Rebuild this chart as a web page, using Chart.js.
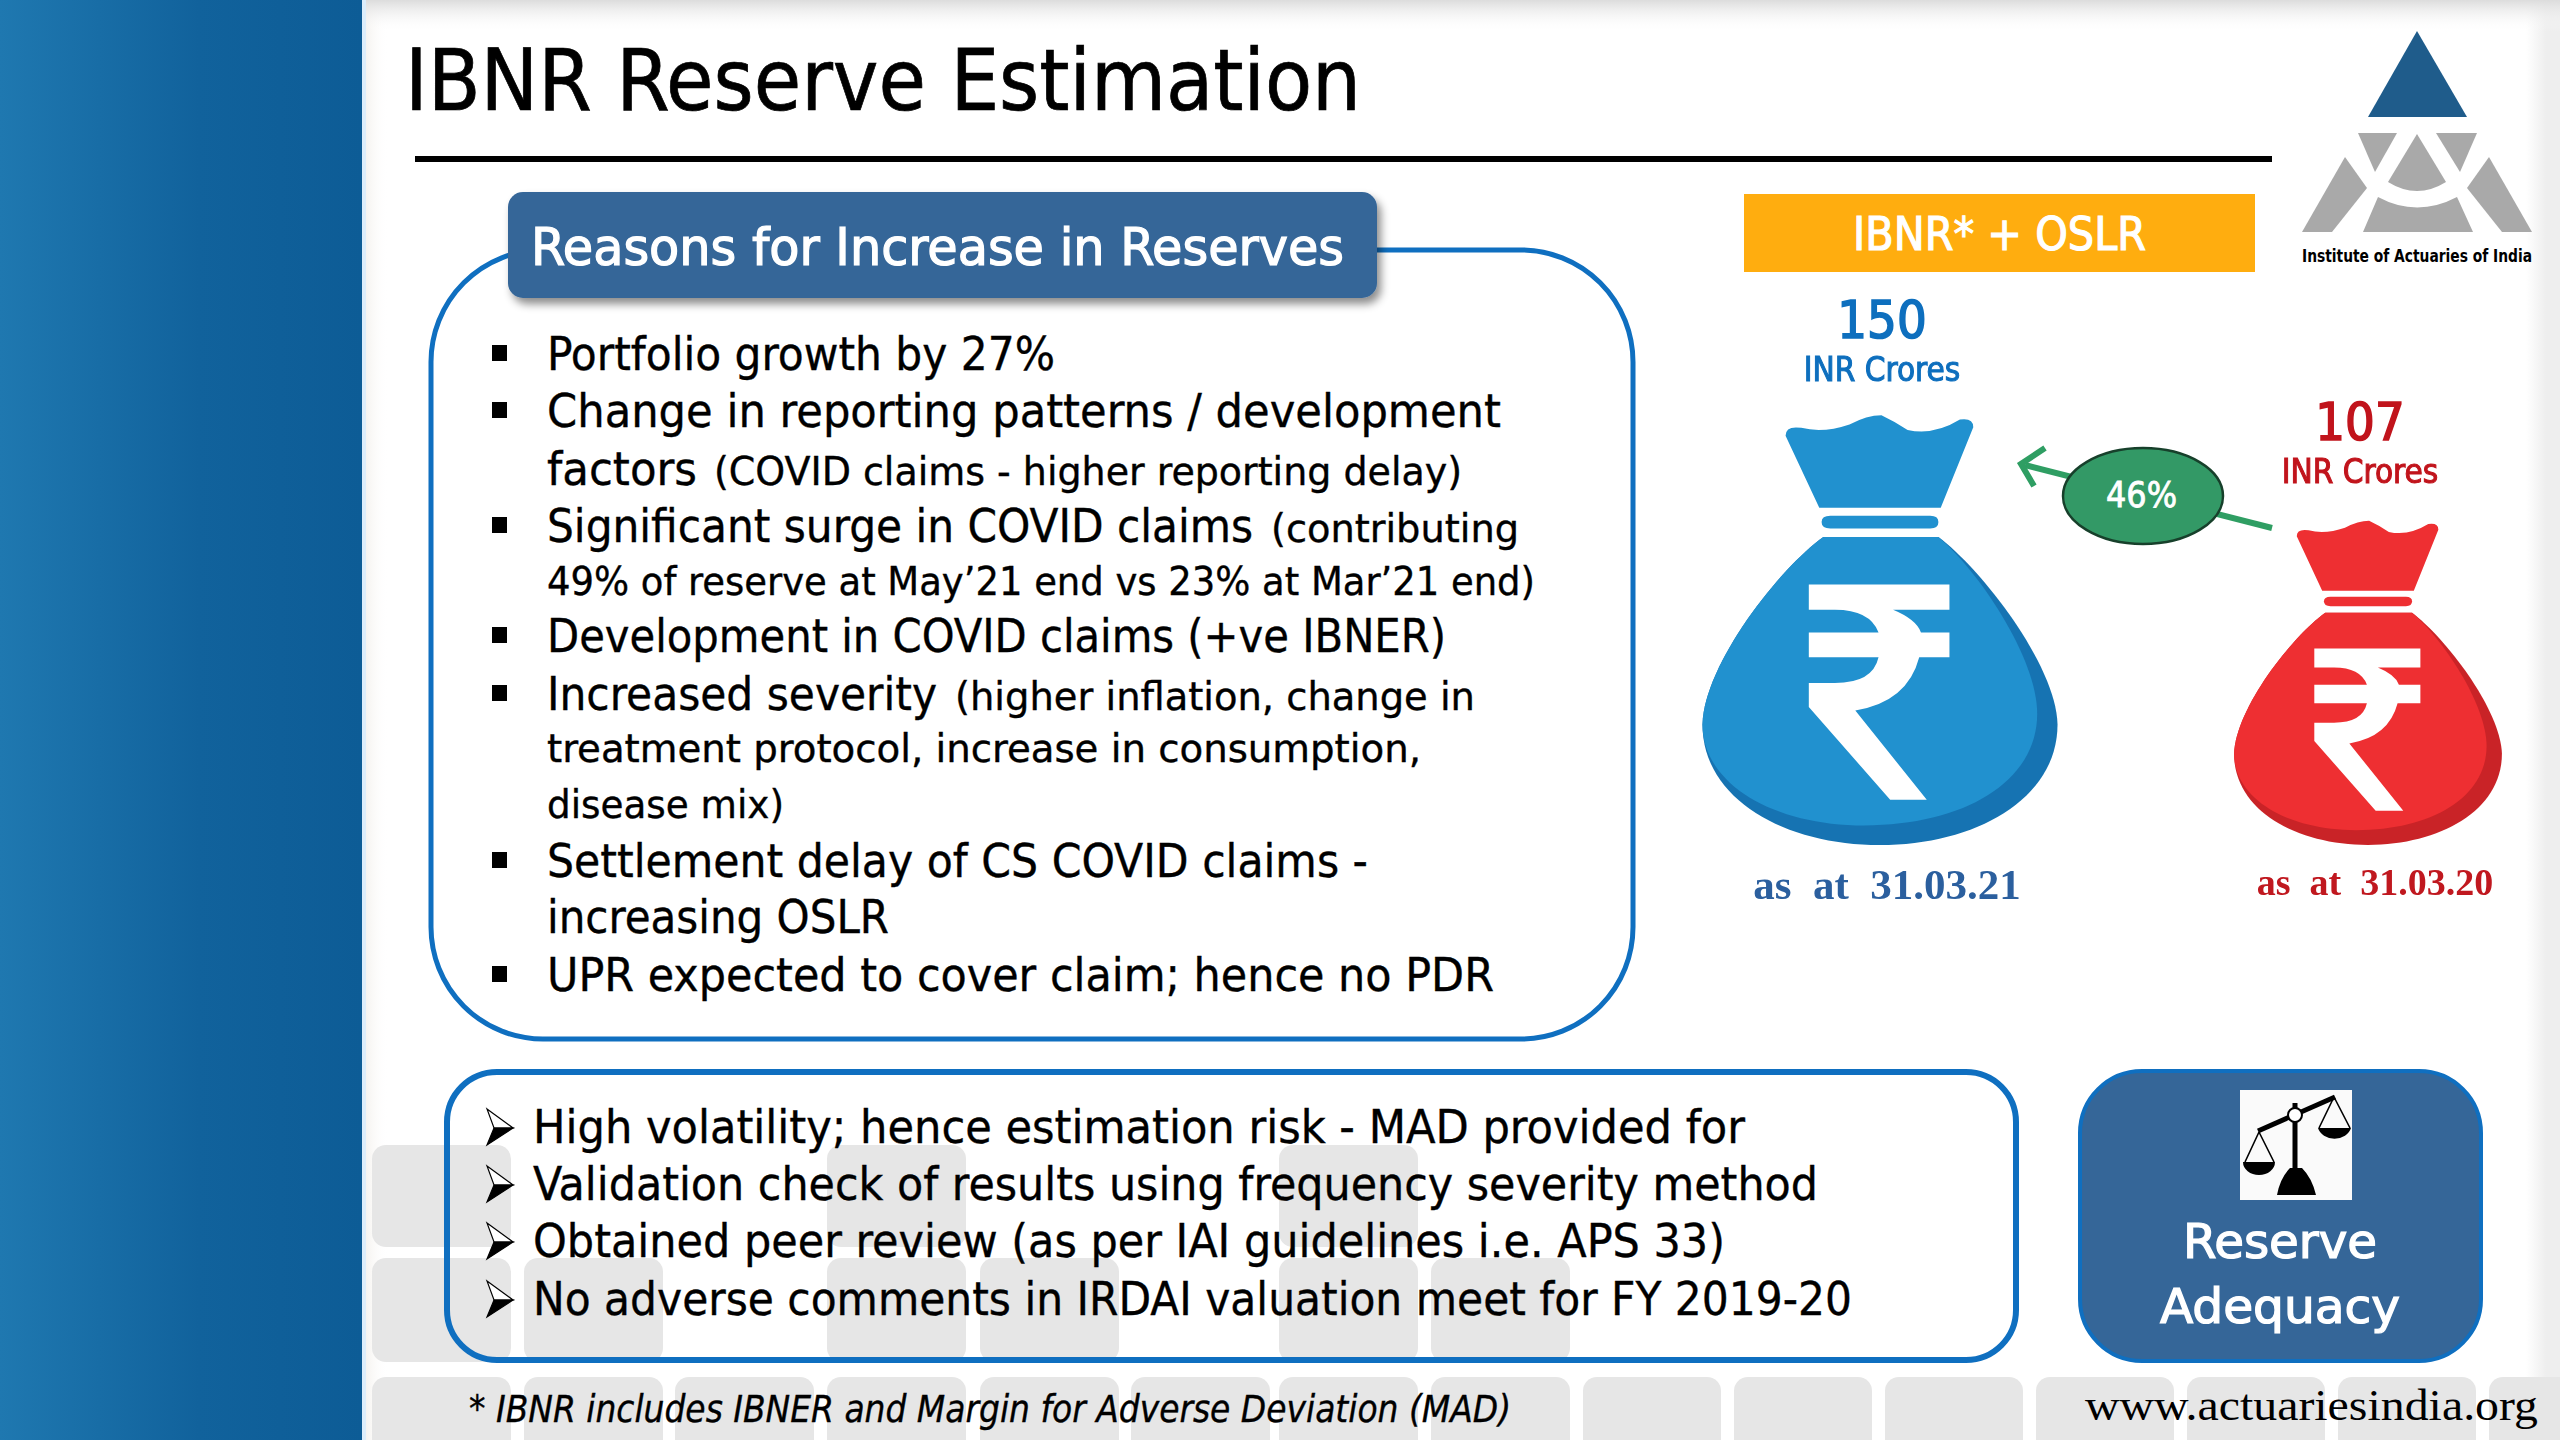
<!DOCTYPE html>
<html>
<head>
<meta charset="utf-8">
<title>IBNR Reserve Estimation</title>
<script src="https://cdn.jsdelivr.net/npm/chart.js"></script>
<style>
html, body { margin: 0; padding: 0; width: 2560px; height: 1440px; overflow: hidden; background: #fff; }
#slide, #chart { position: absolute; left: 0; top: 0; width: 2560px; height: 1440px; }
text { font-family: "DejaVu Sans Condensed", "DejaVu Sans", sans-serif; }
</style>
</head>
<body>
<svg id="slide" xmlns="http://www.w3.org/2000/svg" width="2560" height="1440" viewBox="0 0 2560 1440"></svg>
<canvas id="chart" width="2560" height="1440"></canvas>
<script>
// chart values
const periods = ['as  at  31.03.21', 'as  at  31.03.20'];
const reserveValues = [150, 107];
const unitLabel = 'INR Crores';
const growthLabel = '46%';

// bag outlines, drawn in one local box and scaled to each bar
const frillPath = new Path2D('M235,105 Q235,75 262,82 Q300,98 345,72 Q375,45 400,45 Q425,65 445,88 Q490,105 535,58 Q558,52 558,80 L502,315 L293,315 Z');
const tiePath = new Path2D('M312,338 L484,338 Q498,338 498,356 Q498,375 484,375 L312,375 Q297,375 297,356 Q297,338 312,338 Z');
const bodyPath = new Path2D('M300,400 L498,400 C570,490 700,770 703,945 C703,1165 560,1297 397,1297 C235,1297 92,1165 92,945 C95,770 225,490 300,400 Z');
const lightPath = new Path2D('M300,400 L498,400 C565,495 668,750 668,915 C668,1115 540,1240 370,1240 C215,1240 92,1120 92,945 C95,770 225,490 300,400 Z');
const rupeePath = new Path2D('M275,538 L517,538 L517,612 L420,612 Q460,640 468,678 L517,678 L517,750 L465,750 Q445,880 355,905 L478,1165 L415,1165 L275,895 L275,825 L320,825 Q385,825 395,750 L275,750 L275,678 L395,678 Q380,612 320,612 L275,612 Z');

const bagColors = [
    { light: '#2191cf', dark: '#1673b2', text: '#0e6fbe' },
    { light: '#ee2f32', dark: '#c92327', text: '#c1141c' }
];
const tickColors = ['#2b5f9e', '#c0181f'];
const tickSizes = [43, 38];
const labelShift = [2, -8];
const labelLift = [0, 4];

// Background and slide text
const parts = [];

function txt(str, x, y, size, x2, opts) {
    opts = opts || {};
    const safe = str.replace(/&/g, '&amp;');
    const stroke = opts.stroke === undefined ? 0.35 : opts.stroke;
    parts.push('<text x="' + x + '" y="' + y + '" font-size="' + size + '" fill="' + (opts.fill || '#000') + '"' +
        ' textLength="' + (x2 - x) + '" lengthAdjust="spacingAndGlyphs" xml:space="preserve"' +
        (stroke ? ' stroke="' + (opts.fill || '#000') + '" stroke-width="' + stroke + '"' : '') +
        (opts.italic ? ' font-style="italic"' : '') +
        (opts.family ? ' style="font-family:' + opts.family + '"' : '') +
        (opts.weight ? ' font-weight="' + opts.weight + '"' : '') + '>' + safe + '</text>');
}

parts.push(`
<defs>
  <linearGradient id="side" x1="0" y1="0" x2="1" y2="0">
    <stop offset="0" stop-color="#1f78b0"/><stop offset="0.55" stop-color="#11629c"/><stop offset="1" stop-color="#0d5c96"/>
  </linearGradient>
  <linearGradient id="topBand" x1="0" y1="0" x2="0" y2="1">
    <stop offset="0" stop-color="#dcdcdc"/><stop offset="1" stop-color="#ffffff" stop-opacity="0"/>
  </linearGradient>
  <linearGradient id="leftBand" x1="0" y1="0" x2="1" y2="0">
    <stop offset="0" stop-color="#f3f0ec"/><stop offset="1" stop-color="#ffffff" stop-opacity="0"/>
  </linearGradient>
  <linearGradient id="rightBand" x1="0" y1="0" x2="1" y2="0">
    <stop offset="0" stop-color="#ffffff"/><stop offset="1" stop-color="#eeeeee"/>
  </linearGradient>
  <filter id="soft" x="-5%" y="-10%" width="110%" height="130%">
    <feDropShadow dx="4" dy="6" stdDeviation="4" flood-color="#000" flood-opacity="0.45"/>
  </filter>
</defs>
<rect x="366" y="0" width="22" height="1440" fill="url(#leftBand)" opacity="0.8"/>
<rect x="2526" y="0" width="20" height="1440" fill="url(#rightBand)"/>
<rect x="2546" y="0" width="14" height="1440" fill="#eeeeee"/>
<rect x="366" y="0" width="2194" height="32" fill="url(#topBand)"/>
`);

// grey tiles behind the lower part of the slide
const tileColumns = [372, 524, 675, 827, 980, 1131, 1279, 1431, 1583, 1734, 1885, 2036, 2187, 2338, 2489];
tileColumns.forEach(function(tx, i) {
    const w = tx < 1500 ? 139 : 138;
    if (i === 0 || i === 3 || i === 6) {
        parts.push('<rect x="' + tx + '" y="1145" width="' + w + '" height="102" rx="14" fill="#e6e6e6"/>');
    }
    if (i === 0 || i === 1 || i === 3 || i === 4 || i === 6 || i === 7) {
        parts.push('<rect x="' + tx + '" y="1258" width="' + w + '" height="104" rx="14" fill="#e6e6e6"/>');
    }
    parts.push('<rect x="' + tx + '" y="1377" width="' + w + '" height="90" rx="14" fill="#e6e6e6"/>');
});

parts.push(`
<rect x="0" y="0" width="362" height="1440" fill="url(#side)"/>
<rect x="362" y="0" width="4" height="1440" fill="#dcedfb"/>
<rect x="415" y="156" width="1857" height="6" fill="#000"/>

<rect x="431" y="250" width="1202" height="789" rx="112" ry="112" fill="#fff" stroke="#0f6fc0" stroke-width="5"/>
<rect x="508" y="192" width="869" height="106" rx="15" fill="#356698" filter="url(#soft)"/>

<rect x="1744" y="194" width="511" height="78" fill="#ffad0f"/>

<rect x="447" y="1072" width="1569" height="288" rx="50" fill="none" stroke="#0f6fc0" stroke-width="6"/>

<rect x="2080" y="1071" width="401" height="290" rx="62" fill="#356698" stroke="#0f6fc0" stroke-width="4"/>
<rect x="2240" y="1090" width="112" height="110" fill="#fafafa"/>
<g stroke="#000" fill="none">
  <path d="M2258,1131 L2335,1097" stroke-width="5"/>
  <path d="M2295,1103 L2295,1187" stroke-width="5"/>
  <path d="M2259,1132 L2245,1162 M2259,1132 L2274,1162 M2334,1097 L2319,1128 M2334,1097 L2350,1128" stroke-width="1.6"/>
</g>
<path d="M2243,1162 L2275,1162 A16,13 0 0 1 2243,1162 Z M2318,1128 L2351,1128 A17,14 0 0 1 2318,1128 Z M2277,1195 L2316,1195 Q2312,1178 2302,1168 L2290,1168 Q2280,1178 2277,1195 Z" fill="#000"/>
<circle cx="2295" cy="1115" r="7" fill="#fff" stroke="#000" stroke-width="2"/>

<!-- logo -->
<path d="M2417,31 L2467,117 L2368,117 Z" fill="#1f5c8b"/>
<g fill="#a9a9a9">
  <path d="M2358,133 L2397,133 L2375,172 Z"/>
  <path d="M2436,133 L2477,133 L2460,172 Z"/>
  <path d="M2417,134 L2446,182 Q2417,200 2388,182 Z"/>
  <path d="M2345,157 L2367,188 L2332,232 L2302,232 Z"/>
  <path d="M2489,157 L2467,188 L2502,232 L2532,232 Z"/>
  <path d="M2378,197 Q2417,218 2457,197 L2473,232 L2363,232 Z"/>
</g>

<!-- growth arrow and badge -->
<path d="M2272,528 L2025,465" stroke="#2f9e63" stroke-width="6" fill="none"/>
<path d="M2045,448 L2021,464 L2034,486" stroke="#2f9e63" stroke-width="6" fill="none"/>
<ellipse cx="2143" cy="496" rx="80" ry="48" fill="#339966" stroke="#17402b" stroke-width="2.5"/>
`);

// bullets of the reasons list
[370, 427, 542, 652, 710, 877, 991].forEach(function(y) {
    parts.push('<rect x="492" y="' + (y - 25) + '" width="15" height="16" fill="#000"/>');
});
// arrow bullets of the lower box
[1143, 1200, 1257, 1315].forEach(function(y) {
    parts.push('<path d="M487,' + (y - 34) + ' L513,' + (y - 15) + ' L494,' + (y - 15) + ' Z" fill="#fff" stroke="#000" stroke-width="1.2"/>');
    parts.push('<path d="M513,' + (y - 15) + ' L487,' + (y + 2) + ' L494,' + (y - 15) + ' Z" fill="#000" stroke="#000" stroke-width="1.2"/>');
});

txt('IBNR Reserve Estimation', 405, 110, 85, 1361, { stroke: 0.7 });
txt('Reasons for Increase in Reserves', 531, 265, 52, 1344, { fill: '#fff', stroke: 1.2 });

txt('Portfolio growth by 27%', 547, 370, 46, 1055);
txt('Change in reporting patterns / development', 547, 427, 46, 1501);
txt('factors', 547, 485, 46, 697);
txt('(COVID claims - higher reporting delay)', 714, 485, 39, 1462);
txt('Significant surge in COVID claims', 547, 542, 46, 1253);
txt('(contributing', 1271, 542, 39, 1519);
txt('49% of reserve at May’21 end vs 23% at Mar’21 end)', 547, 595, 39, 1535);
txt('Development in COVID claims (+ve IBNER)', 547, 652, 46, 1446);
txt('Increased severity', 547, 710, 46, 937);
txt('(higher inflation, change in', 955, 710, 39, 1475);
txt('treatment protocol, increase in consumption,', 547, 762, 39, 1421);
txt('disease mix)', 547, 818, 39, 784);
txt('Settlement delay of CS COVID claims -', 547, 877, 46, 1368);
txt('increasing OSLR', 547, 933, 46, 889);
txt('UPR expected to cover claim; hence no PDR', 547, 991, 46, 1494);

txt('High volatility; hence estimation risk - MAD provided for', 533, 1143, 46, 1745);
txt('Validation check of results using frequency severity method', 533, 1200, 46, 1818);
txt('Obtained peer review (as per IAI guidelines i.e. APS 33)', 533, 1257, 46, 1725);
txt('No adverse comments in IRDAI valuation meet for FY 2019-20', 533, 1315, 46, 1852);

txt('* IBNR includes IBNER and Margin for Adverse Deviation (MAD)', 469, 1422, 37, 1511, { italic: true });

txt('IBNR* + OSLR', 1853, 250, 46, 2146, { fill: '#fff', stroke: 1.1 });
txt('Institute of Actuaries of India', 2302, 262, 18, 2532, { weight: 'bold', stroke: 0 });
txt(growthLabel, 2106, 507, 36, 2177, { fill: '#fff', stroke: 0.8 });
txt('Reserve', 2183, 1258, 48, 2377, { fill: '#fff', stroke: 1.2 });
txt('Adequacy', 2160, 1323, 48, 2400, { fill: '#fff', stroke: 1.2 });
txt('www.actuariesindia.org', 2085, 1420, 44, 2538, { family: "'Liberation Serif'", stroke: 0 });

document.getElementById('slide').innerHTML = parts.join('\n');

// Draws each bar of the chart as a money bag with its value above it
const bagPlugin = {
    id: 'bags',
    beforeDatasetDraw(chart) {
        const ctx = chart.ctx;
        const meta = chart.getDatasetMeta(0);
        meta.data.forEach(function(bar, i) {
            const h = bar.base - bar.y;
            const w = h * 0.826;
            const c = bagColors[i];

            ctx.save();
            ctx.translate(bar.x - w / 2, bar.y);
            ctx.scale(w / 611, h / 1252);
            ctx.translate(-92, -45);
            ctx.fillStyle = c.light;
            ctx.fill(frillPath);
            ctx.fill(tiePath);
            ctx.fillStyle = c.dark;
            ctx.fill(bodyPath);
            ctx.fillStyle = c.light;
            ctx.fill(lightPath);
            ctx.fillStyle = '#fff';
            ctx.fill(rupeePath);
            ctx.restore();

            const cx = bar.x + labelShift[i];
            const top = bar.y - labelLift[i];
            ctx.save();
            ctx.textAlign = 'center';
            ctx.textBaseline = 'alphabetic';
            ctx.fillStyle = c.text;
            ctx.strokeStyle = c.text;
            ctx.font = '52px "DejaVu Sans Condensed"';
            ctx.lineWidth = 1.6;
            ctx.fillText(String(reserveValues[i]), cx, top - 77);
            ctx.strokeText(String(reserveValues[i]), cx, top - 77);
            ctx.font = '33px "DejaVu Sans Condensed"';
            ctx.lineWidth = 1;
            ctx.fillText(unitLabel, cx, top - 34);
            ctx.strokeText(unitLabel, cx, top - 34);
            ctx.restore();
        });
        return false;
    }
};

new Chart(document.getElementById('chart'), {
    type: 'bar',
    data: {
        labels: periods,
        datasets: [{ data: reserveValues, base: -25, backgroundColor: bagColors.map(c => c.light) }]
    },
    plugins: [bagPlugin],
    options: {
        responsive: false,
        animation: false,
        events: [],
        layout: { padding: { left: 1880, right: 192, top: 366, bottom: 525 } },
        plugins: { legend: { display: false }, tooltip: { enabled: false } },
        scales: {
            x: {
                offset: false,
                border: { display: false },
                grid: { display: false },
                afterFit(scale) { scale.height = 70; },
                ticks: {
                    autoSkip: false,
                    maxRotation: 0,
                    padding: 9,
                    labelOffset: 7,
                    color: ctx => tickColors[ctx.index],
                    font: ctx => ({ family: 'Liberation Serif', weight: 'bold', size: tickSizes[ctx.index] })
                }
            },
            y: { display: false, min: -25, max: 170 }
        }
    }
});
</script>
</body>
</html>
